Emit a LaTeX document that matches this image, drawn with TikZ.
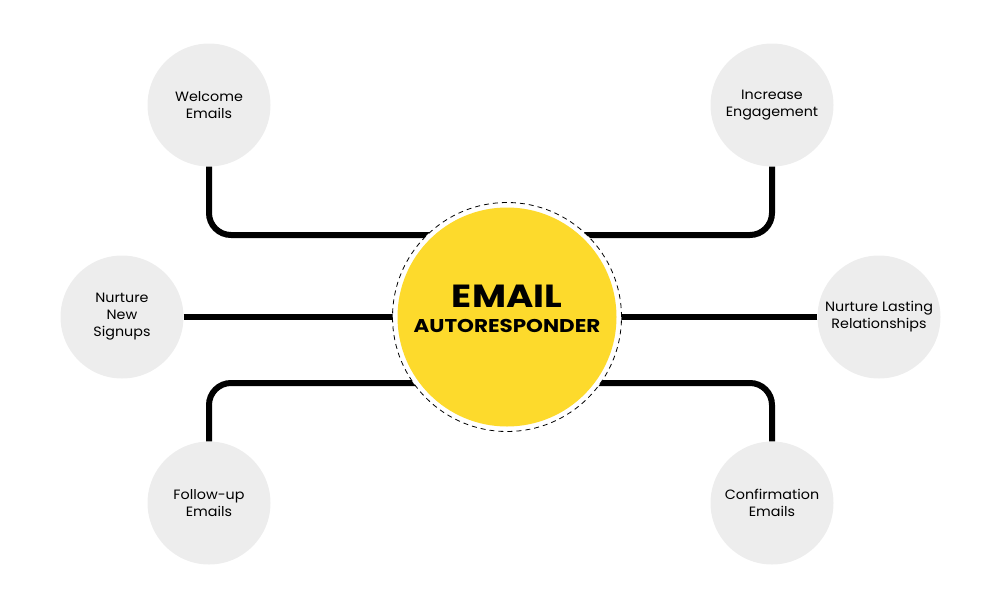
\documentclass[tikz,border=0pt]{standalone}
\usepackage{fontspec}
\setmainfont{Poppins}[FakeStretch=1.06]
\newfontfamily\hubfont{Poppins}[FakeStretch=1.16]
\usepackage{tikz}
\usetikzlibrary{calc}

\definecolor{hubyellow}{HTML}{FDDA2C}
\definecolor{leafgrey}{HTML}{EDEDED}

\tikzset{
  leaf/.style={circle, fill=leafgrey, minimum size=123pt, inner sep=0pt, align=center,
    font=\fontsize{13.5}{17}\selectfont},
  link/.style={line width=6pt, black, rounded corners=22pt},
}

\begin{document}
\begin{tikzpicture}[x=1pt, y=-1pt]
        \useasboundingbox (0,0) rectangle (1001,608);

        \coordinate (xhub) at (507, 317);
        \coordinate (xwel) at (209, 105);
        \coordinate (xinc) at (772, 105);
        \coordinate (xsig) at (122, 317);
        \coordinate (xrel) at (879, 317);
        \coordinate (xfol) at (209, 503);
        \coordinate (xcon) at (772, 503);
        \coordinate (hubtop) at (507, 235);
        \coordinate (hubbot) at (507, 383);

        \node[leaf] (welcome) at (xwel) {Welcome\\Emails};
        \node[leaf] (increase) at (xinc) {Increase\\Engagement};
        \node[leaf] (signups) at (xsig) {Nurture\\New\\Signups};
        \node[leaf] (lasting) at (xrel) {Nurture Lasting\\Relationships};
        \node[leaf] (followup) at (xfol) {Follow-up\\Emails};
        \node[leaf] (confirm) at (xcon) {Confirmation\\Emails};

        \draw[link] (welcome.south) |- (hubtop);
        \draw[link] (increase.south) |- (hubtop);
        \draw[link] (followup.north) |- (hubbot);
        \draw[link] (confirm.north) |- (hubbot);
        \draw[link] (signups.east) -- (xhub);
        \draw[link] (lasting.west) -- (xhub);

        % white ring with dashed rim, then the hub itself
        \node[circle, fill=white, draw=black, line width=0.8pt, dash pattern=on 5pt off 4pt,
          minimum size=229pt, inner sep=0pt] (rim) at (xhub) {};
        \node[circle, fill=hubyellow, minimum size=219pt, inner sep=0pt] (hub) at (xhub) {};
        \node[align=center, font=\hubfont\bfseries\fontsize{18.5}{25}\selectfont] (hubtext) at (507, 309)
          {{\fontsize{32}{34}\selectfont EMAIL}\\AUTORESPONDER};
    \end{tikzpicture}
\end{document}
